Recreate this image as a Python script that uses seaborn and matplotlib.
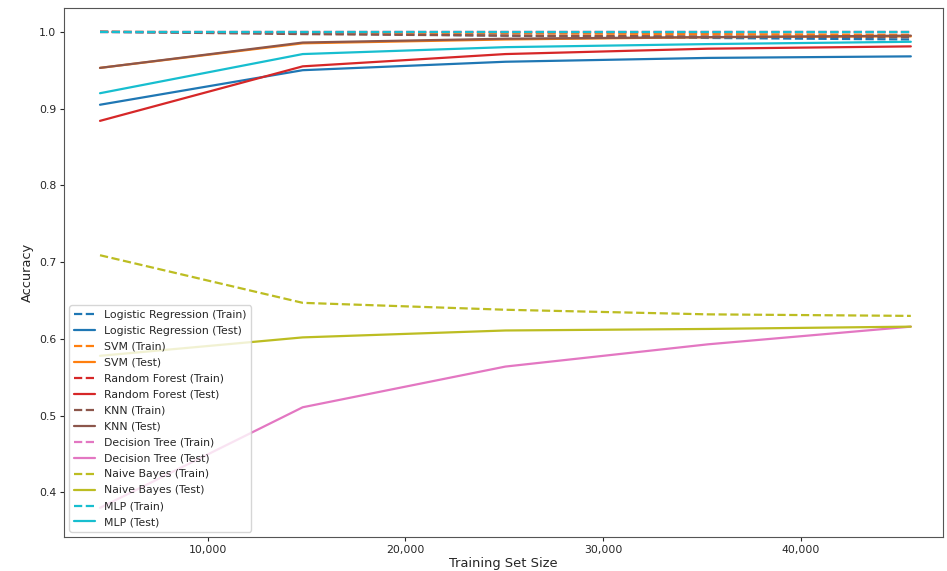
import matplotlib
matplotlib.use("Agg")
import matplotlib.pyplot as plt
import matplotlib.ticker as mticker
import seaborn as sns

sns.set_style("ticks")
plt.rcParams["font.family"] = ["DejaVu Sans"]

# training set sizes (x axis)
train_sizes = [4558, 14813, 25068, 35323, 45578]

models = ["Logistic Regression", "SVM", "Random Forest", "KNN",
          "Decision Tree", "Naive Bayes", "MLP"]
colors = ["tab:blue", "tab:orange", "tab:red", "tab:brown",
          "tab:pink", "tab:olive", "tab:cyan"]

# accuracy
lr_train = [1.000, 0.998, 0.995, 0.992, 0.990]
lr_test = [0.905, 0.950, 0.961, 0.966, 0.968]
svm_train = [1.000, 0.999, 0.998, 0.997, 0.996]
svm_test = [0.953, 0.985, 0.990, 0.993, 0.994]
rf_train = [1.000, 1.000, 1.000, 1.000, 1.000]
rf_test = [0.884, 0.955, 0.971, 0.978, 0.981]
knn_train = [1.000, 0.997, 0.995, 0.994, 0.993]
knn_test = [0.953, 0.986, 0.991, 0.993, 0.995]
dt_train = [1.000, 1.000, 1.000, 1.000, 1.000]
dt_test = [0.380, 0.511, 0.564, 0.593, 0.616]
nb_train = [0.709, 0.647, 0.638, 0.632, 0.630]
nb_test = [0.578, 0.602, 0.611, 0.613, 0.616]
mlp_train = [1.000, 1.000, 1.000, 1.000, 1.000]
mlp_test = [0.920, 0.971, 0.980, 0.984, 0.987]

train_scores = [lr_train, svm_train, rf_train, knn_train, dt_train, nb_train, mlp_train]
test_scores = [lr_test, svm_test, rf_test, knn_test, dt_test, nb_test, mlp_test]

fig = plt.figure(figsize=(9.47, 5.71), dpi=100)
ax = fig.add_axes([0.0676, 0.0595, 0.928, 0.9265])

for name, col, tr, te in zip(models, colors, train_scores, test_scores):
    sns.lineplot(x=train_sizes, y=tr, ax=ax, color=col, linestyle="--",
                 linewidth=1.6, label=f"{name} (Train)")
    sns.lineplot(x=train_sizes, y=te, ax=ax, color=col, linestyle="-",
                 linewidth=1.6, label=f"{name} (Test)")

ax.set_xlim(2737, 47197)
ax.set_ylim(0.342, 1.031)
ax.xaxis.set_major_locator(mticker.MultipleLocator(10000))
ax.xaxis.set_major_formatter(mticker.StrMethodFormatter("{x:,.0f}"))
ax.tick_params(labelsize=7.8, length=3, pad=2.5)
ax.set_xlabel("Training Set Size", fontsize=9.4, labelpad=1.5)
ax.set_ylabel("Accuracy", fontsize=9.4)
for s in ax.spines.values():
    s.set_visible(True)
    s.set_color("#555555")

ax.legend(loc="lower left", fontsize=7.8, framealpha=0.8, labelspacing=0.55)

fig.savefig("out.png", dpi=100)
